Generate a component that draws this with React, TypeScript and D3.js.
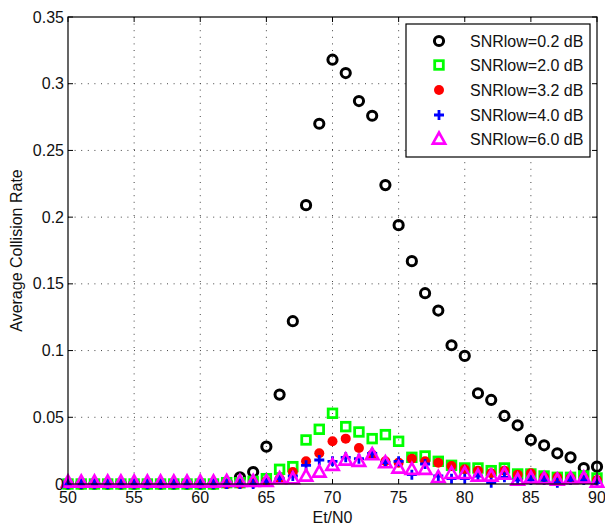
import React from "react";
import * as d3 from "d3";

const xs = d3.range(50, 91);
const snr02 = [0,0,0,0,0,0,0,0,0,0,0,0,0.001,0.005,0.009,0.028,0.067,0.122,0.209,0.270,0.318,0.308,0.287,0.276,0.224,0.194,0.167,0.143,0.130,0.104,0.096,0.068,0.063,0.051,0.044,0.033,0.029,0.023,0.020,0.012,0.013];
const snr20 = [0,0,0,0,0,0,0,0,0,0,0,0,0.001,0.001,0.002,0.004,0.011,0.013,0.033,0.041,0.053,0.043,0.039,0.034,0.037,0.032,0.020,0.021,0.017,0.014,0.012,0.012,0.010,0.012,0.0075,0.0075,0.006,0.005,0.005,0.006,0.0045];
const snr32 = [0,0,0,0,0,0,0,0,0,0,0,0,0,0,0.001,0.002,0.004,0.009,0.017,0.023,0.032,0.034,0.027,0.022,0.017,0.016,0.019,0.017,0.016,0.0135,0.011,0.010,0.008,0.010,0.007,0.008,0.005,0.005,0.0045,0.0045,0.003];
const snr40 = [0,0,0,0,0,0,0,0,0,0,0,0,0,0,0,0.002,0.004,0.006,0.014,0.018,0.017,0.020,0.019,0.023,0.016,0.017,0.007,0.015,0.006,0.004,0.004,0.006,0.001,0.005,0.003,0.003,0.003,0.001,0.003,0.003,0.001];
const snr60 = [0.0015,0.0015,0.0015,0.0015,0.0015,0.0015,0.0015,0.0015,0.0015,0.0015,0.0015,0.0015,0.002,0.002,0.002,0.002,0.004,0.004,0.006,0.009,0.014,0.018,0.017,0.022,0.016,0.012,0.011,0.011,0.005,0.008,0.008,0.006,0.006,0.0075,0.003,0.0045,0.004,0.003,0.004,0.0045,0.0015];
const xTicks = [50, 55, 60, 65, 70, 75, 80, 85, 90];
const yTicks = [0, 0.05, 0.1, 0.15, 0.2, 0.25, 0.3, 0.35];
const yTickLabels = ["0", "0.05", "0.1", "0.15", "0.2", "0.25", "0.3", "0.35"];
const legendLabels = ["SNRlow=0.2 dB", "SNRlow=2.0 dB", "SNRlow=3.2 dB", "SNRlow=4.0 dB", "SNRlow=6.0 dB"];

const W = 605, H = 529;
const L = 68, R = 597, T = 17, B = 484;
const font = "'Liberation Sans', Arial, Helvetica, sans-serif";

type Kind = "circle" | "square" | "dot" | "plus" | "tri";

function Marker({ kind, x, y }: { kind: Kind; x: number; y: number }) {
  switch (kind) {
    case "circle":
      return <circle cx={x} cy={y} r={4.6} fill="none" stroke="#000" strokeWidth={3} />;
    case "square":
      return <rect x={x - 4.3} y={y - 4.3} width={8.6} height={8.6} fill="none" stroke="#00ff00" strokeWidth={2.8} />;
    case "dot":
      return <circle cx={x} cy={y} r={5} fill="#ff0000" stroke="none" />;
    case "plus":
      return (
        <path d={`M${x - 5},${y}H${x + 5}M${x},${y - 5}V${y + 5}`} stroke="#0000ff" strokeWidth={2.8} fill="none" />
      );
    case "tri":
      return (
        <path d={`M${x},${y - 6.5}L${x + 6.2},${y + 4.6}L${x - 6.2},${y + 4.6}Z`} fill="none" stroke="#ff00ff" strokeWidth={2.6} strokeLinejoin="miter" />
      );
  }
}

export default function App() {
  const x = d3.scaleLinear().domain([50, 90]).range([L, R]);
  const y = d3.scaleLinear().domain([0, 0.35]).range([B, T]);
  const series: { data: number[]; kind: Kind }[] = [
    { data: snr02, kind: "circle" },
    { data: snr20, kind: "square" },
    { data: snr32, kind: "dot" },
    { data: snr40, kind: "plus" },
    { data: snr60, kind: "tri" },
  ];
  const lx = 406, ly = 24, lw = 184, lh = 133;
  const legY = [41, 65, 90, 115, 139];
  return (
    <div style={{ position: "fixed", left: 0, top: 0 }}>
      <svg width={W} height={H} style={{ display: "block", background: "#fff" }} fontFamily={font}>
        <rect x={0} y={0} width={W} height={H} fill="#fff" />
        {/* grid */}
        <g stroke="#444" strokeWidth={1} strokeDasharray="1,5.6">
          {xTicks.slice(1, -1).map((t) => (
            <line key={"gx" + t} x1={x(t)} x2={x(t)} y1={T} y2={B} />
          ))}
          {yTicks.slice(1, -1).map((t) => (
            <line key={"gy" + t} x1={L} x2={R} y1={y(t)} y2={y(t)} />
          ))}
        </g>
        {/* ticks */}
        <g stroke="#000" strokeWidth={1}>
          {xTicks.map((t) => (
            <g key={"tx" + t}>
              <line x1={x(t)} x2={x(t)} y1={B} y2={B - 5} />
              <line x1={x(t)} x2={x(t)} y1={T} y2={T + 5} />
            </g>
          ))}
          {yTicks.map((t) => (
            <g key={"ty" + t}>
              <line x1={L} x2={L + 5} y1={y(t)} y2={y(t)} />
              <line x1={R} x2={R - 5} y1={y(t)} y2={y(t)} />
            </g>
          ))}
        </g>
        {/* data */}
        {series.map((s, i) => (
          <g key={"s" + i}>
            {s.data.map((v, j) => (
              <Marker key={j} kind={s.kind} x={x(xs[j])} y={y(v)} />
            ))}
          </g>
        ))}
        {/* box */}
        <rect x={L} y={T} width={R - L} height={B - T} fill="none" stroke="#000" strokeWidth={1.2} />
        {/* tick labels */}
        <g fontSize={16} fill="#111">
          {xTicks.map((t) => (
            <text key={"lx" + t} x={x(t)} y={B + 19} textAnchor="middle">{t}</text>
          ))}
          {yTicks.map((t, i) => (
            <text key={"ly" + t} x={L - 4} y={y(t) + 5.5} textAnchor="end">{yTickLabels[i]}</text>
          ))}
        </g>
        <text x={(L + R) / 2} y={523} textAnchor="middle" fontSize={16} fill="#111">Et/N0</text>
        <text transform={`translate(22,${(T + B) / 2}) rotate(-90)`} textAnchor="middle" fontSize={16} fill="#111">Average Collision Rate</text>
        {/* legend */}
        <rect x={lx} y={ly} width={lw} height={lh} fill="#fff" stroke="#000" strokeWidth={1.2} />
        {series.map((s, i) => (
          <g key={"lg" + i}>
            <Marker kind={s.kind} x={439} y={legY[i]} />
            <text x={470} y={legY[i] + 5.5} fontSize={16} fill="#111">{legendLabels[i]}</text>
          </g>
        ))}
      </svg>
    </div>
  );
}
